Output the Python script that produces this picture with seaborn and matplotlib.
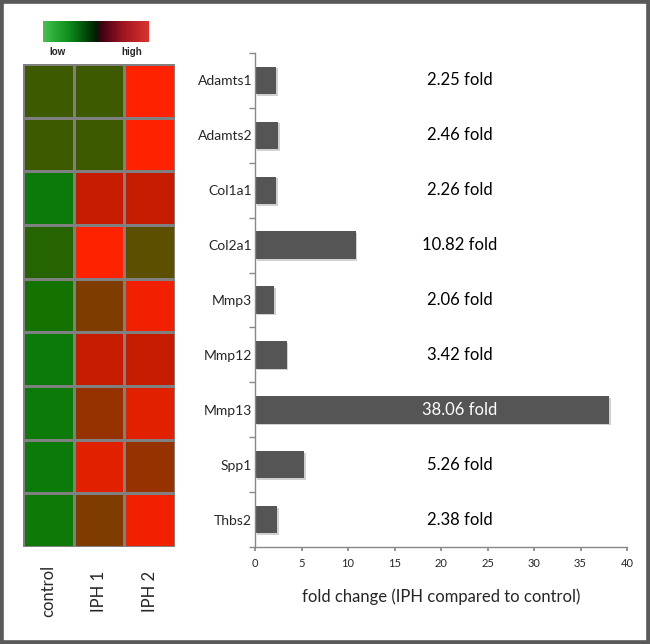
import numpy as np
import pandas as pd
import matplotlib
matplotlib.use("Agg")
import matplotlib.pyplot as plt
import matplotlib.patches as mpatches
import matplotlib.patheffects as pe
import matplotlib.transforms as mtransforms
from matplotlib.colors import LinearSegmentedColormap
import seaborn as sns

# ---- data ----
genes = ["Adamts1", "Adamts2", "Col1a1", "Col2a1", "Mmp3", "Mmp12", "Mmp13", "Spp1", "Thbs2"]
samples = ["control", "IPH 1", "IPH 2"]
control_expr = [0.25, 0.25, 0.00, 0.15, 0.10, 0.00, 0.00, 0.00, 0.02]
iph1_expr = [0.25, 0.25, 0.75, 1.00, 0.50, 0.75, 0.60, 0.88, 0.50]
iph2_expr = [1.00, 1.00, 0.75, 0.35, 0.94, 0.75, 0.88, 0.60, 0.94]
fold_change = [2.25, 2.46, 2.26, 10.82, 2.06, 3.42, 38.06, 5.26, 2.38]
x_ticks = [0, 5, 10, 15, 20, 25, 30, 35, 40]

sns.set_theme(style="white")
plt.rcParams["font.family"] = ["Lato", "DejaVu Sans"]

fig = plt.figure(figsize=(6.5, 6.44), dpi=100)
W, H = 650, 644

def box(l, t, r, b):
    return [l / W, 1 - b / H, (r - l) / W, (b - t) / H]

# heat map colour map (green -> olive -> brown -> red)
cmap = LinearSegmentedColormap.from_list("gr", [
    (0.00, (12/255, 122/255, 8/255)),
    (0.10, (20/255, 115/255, 0)),
    (0.15, (37/255, 100/255, 0)),
    (0.25, (61/255, 90/255, 0)),
    (0.35, (92/255, 80/255, 0)),
    (0.50, (127/255, 60/255, 0)),
    (0.60, (150/255, 50/255, 0)),
    (0.75, (196/255, 28/255, 0)),
    (0.88, (224/255, 32/255, 0)),
    (0.94, (240/255, 32/255, 0)),
    (1.00, (255/255, 34/255, 0)),
])

heat_df = pd.DataFrame({"control": control_expr, "IPH 1": iph1_expr, "IPH 2": iph2_expr},
                       index=genes)[samples]

ax_h = fig.add_axes(box(23, 64, 175, 547))
sns.heatmap(heat_df, ax=ax_h, cmap=cmap, vmin=0, vmax=1, cbar=False,
            linewidths=1, linecolor="#808080")
ax_h.set_yticks([])
ax_h.set_xticks([])
ax_h.set_ylabel("")
ax_h.set_xlabel("")
trans = mtransforms.blended_transform_factory(ax_h.transData, fig.transFigure)
for i, s in enumerate(samples):
    ax_h.text(i + 0.5, 1 - 591 / H, s, transform=trans, rotation=90,
              ha="center", va="center", fontsize=12)

# colour key
ax_c = fig.add_axes(box(43, 21, 149, 42))
key_cmap = LinearSegmentedColormap.from_list("key", [
    (0.00, (0.27, 0.76, 0.30)),
    (0.25, (0.05, 0.55, 0.10)),
    (0.50, (0.0, 0.12, 0.0)),
    (0.55, (0.25, 0.0, 0.08)),
    (0.75, (0.62, 0.08, 0.12)),
    (1.00, (0.86, 0.20, 0.18)),
])
ax_c.imshow(np.linspace(0, 1, 256)[None, :], aspect="auto", cmap=key_cmap)
ax_c.set_xticks([])
ax_c.set_yticks([])
for s in ax_c.spines.values():
    s.set_visible(False)
fig.text(57 / W, 1 - 52 / H, "low", ha="center", va="center", fontsize=7,
         fontweight="bold", family=["Liberation Sans", "DejaVu Sans"])
fig.text(132 / W, 1 - 52 / H, "high", ha="center", va="center", fontsize=7,
         fontweight="bold", family=["Liberation Sans", "DejaVu Sans"])

# bar chart
bar_df = pd.DataFrame({"gene": genes, "fold": fold_change})
ax_b = fig.add_axes(box(255, 53, 627, 547))
sns.barplot(data=bar_df, x="fold", y="gene", orient="h", color="#555555",
            width=0.5, ax=ax_b, saturation=1, edgecolor="none")
for p in ax_b.patches:
    p.set_path_effects([pe.SimplePatchShadow(offset=(1.2, -1.2), shadow_rgbFace="#999999", alpha=0.45),
                        pe.Normal()])
ax_b.set_xlim(0, 40)
ax_b.set_ylim(len(genes) - 0.5, -0.5)
ax_b.set_xticks(x_ticks)
ax_b.set_xticklabels([str(t) for t in x_ticks], fontsize=8)
ax_b.set_ylabel("")
ax_b.set_xlabel("fold change (IPH compared to control)", fontsize=12, labelpad=14)
ax_b.tick_params(axis="y", length=0, pad=2, labelsize=10)
ax_b.set_yticks(np.arange(len(genes) + 1) - 0.5, minor=True)
ax_b.tick_params(axis="y", which="minor", length=4, color="#888888", direction="out", left=True)
ax_b.tick_params(axis="x", length=3, color="#888888", direction="out", bottom=True, pad=5)
for side in ["top", "right"]:
    ax_b.spines[side].set_visible(False)
for side in ["left", "bottom"]:
    ax_b.spines[side].set_color("#888888")
    ax_b.spines[side].set_linewidth(1)

for i, v in enumerate(fold_change):
    ax_b.text(22, i, f"{v:.2f} fold", ha="center", va="center", fontsize=12,
              color="white" if v > 22 else "black")

# outer frame
fig.patches.append(mpatches.Rectangle((0, 0), 1, 1, transform=fig.transFigure,
                                      fill=False, edgecolor="#5a5a5a", linewidth=5.5))

fig.savefig("out.png", dpi=100)
